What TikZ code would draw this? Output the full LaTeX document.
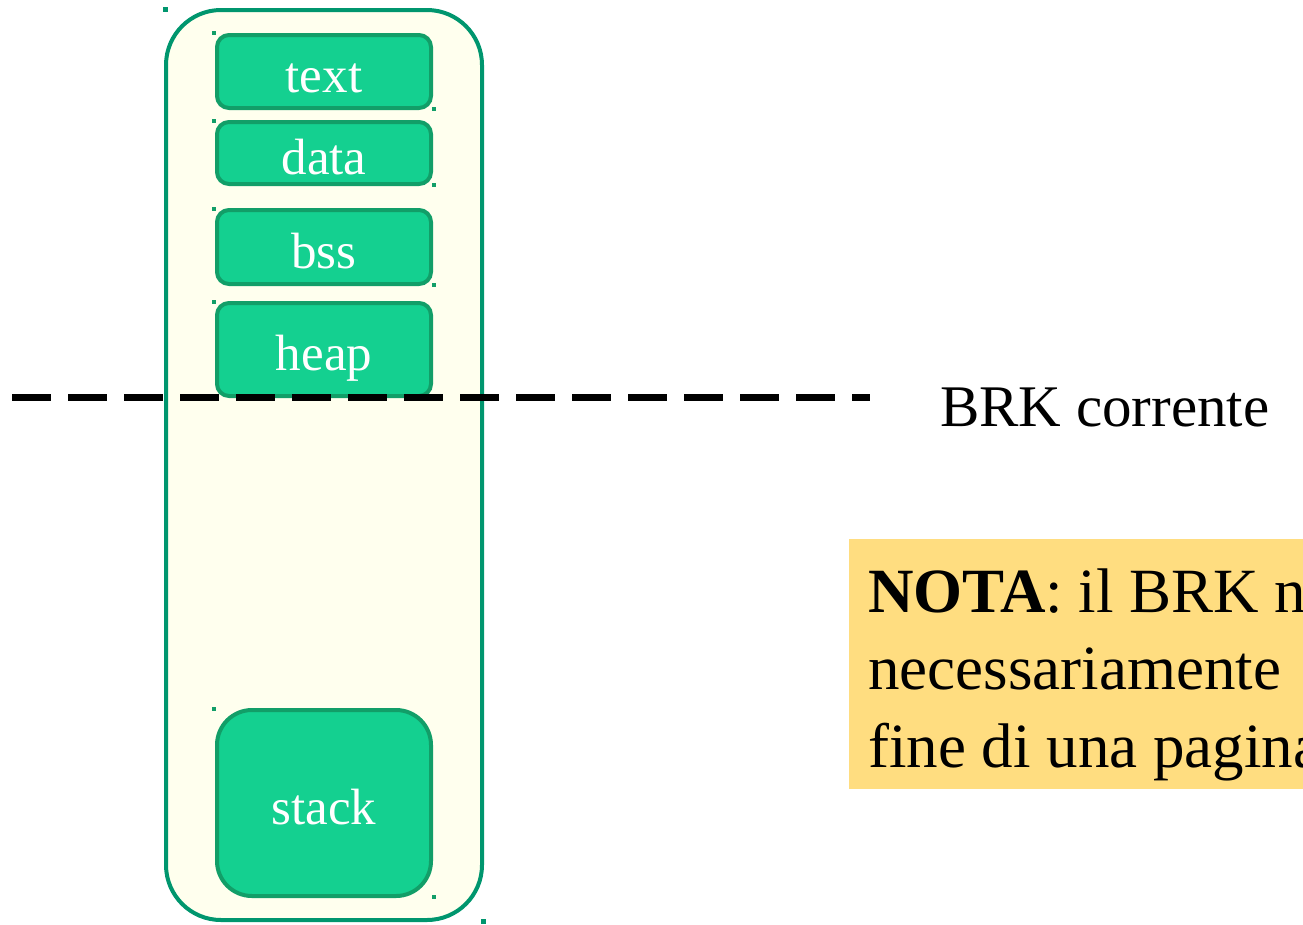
\documentclass[tikz,border=0pt]{standalone}
\usepackage{fontspec}
\setmainfont{Liberation Serif}
\definecolor{outerline}{RGB}{0,150,110}
\definecolor{outerfill}{RGB}{255,255,238}
\definecolor{segfill}{RGB}{20,208,144}
\definecolor{segline}{RGB}{18,158,104}
\definecolor{notefill}{RGB}{255,221,128}
\tikzset{
  segbox/.style={draw=segline, fill=segfill, line width=4pt, rounded corners=12pt,
    minimum width=214pt, inner sep=0pt, text=white,
    font=\fontsize{51}{61}\selectfont, text height=50pt, text depth=8pt},
  notetext/.style={anchor=base west, inner sep=0pt, font=\fontsize{63}{77}\selectfont},
}
\begin{document}
\begin{tikzpicture}[x=1pt,y=-1pt]
\useasboundingbox (0,0) rectangle (1303,924);
\clip (0,0) rectangle (1303,924);
% outer corner markers
\foreach \p in {(165,9),(483,921)} \fill[outerline] \p ++(-2.5,-2.5) rectangle ++(5,5);
% outer process box
\node[draw=outerline, fill=outerfill, line width=4pt, rounded corners=55pt,
      minimum width=316pt, minimum height=910pt, inner sep=0pt] (proc) at (324,465) {};
% segments
\node[segbox, minimum height=73pt] (text) at (324,71.5) {text};
\node[segbox, minimum height=62pt] (data) at (324,153) {data};
\node[segbox, minimum height=74pt] (bss) at (324,247) {bss};
\node[segbox, minimum height=93pt] (heap) at (324,349.5) {heap};
\node[segbox, minimum height=186pt, rounded corners=35pt] (stack) at (324,803) {stack};
% segment corner markers
\foreach \p in {(214,33),(434,109),(214,121),(434,185),(214,209),(434,285),(214,302),(214,709),(434,897)}
  \fill[segline] \p ++(-2,-2) rectangle ++(4,4);
% BRK line
\coordinate (brkL) at (12,397);
\coordinate (brkR) at (870,397);
\draw[line width=7pt, dash pattern=on 39pt off 17pt] (brkL) -- (brkR);
\node[anchor=base west, inner sep=0pt, font=\fontsize{59}{70}\selectfont] (brk) at (940,426) {BRK corrente};
% note
\node[fill=notefill, draw=none, minimum width=480pt, minimum height=250pt, inner sep=0pt, anchor=north west] (note) at (849,539) {};
\node[notetext] (note1) at (868,612) {\textbf{NOTA}: il BRK non è};
\node[notetext] (note2) at (868,689) {necessariamente};
\node[notetext] (note3) at (868,767) {fine di una pagina};
\end{tikzpicture}
\end{document}
